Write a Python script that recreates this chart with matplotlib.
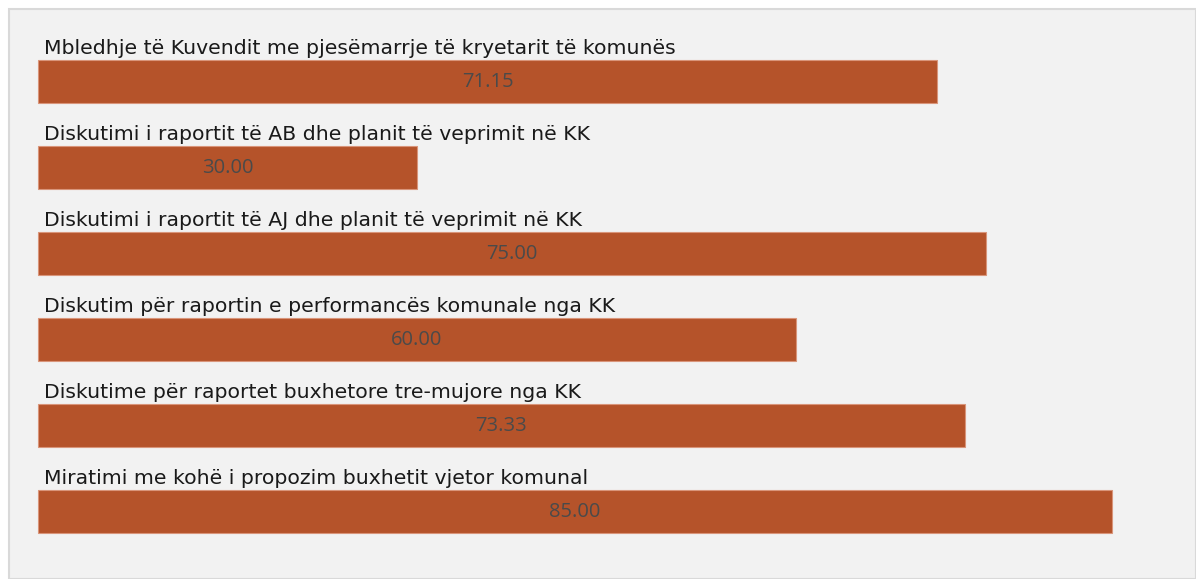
import matplotlib
matplotlib.use("Agg")
import matplotlib.pyplot as plt
from matplotlib.patches import Rectangle

categories = [
    "Mbledhje të Kuvendit me pjesëmarrje të kryetarit të komunës",
    "Diskutimi i raportit të AB dhe planit të veprimit në KK",
    "Diskutimi i raportit të AJ dhe planit të veprimit në KK",
    "Diskutim për raportin e performancës komunale nga KK",
    "Diskutime për raportet buxhetore tre-mujore nga KK",
    "Miratimi me kohë i propozim buxhetit vjetor komunal",
]
values = [71.15, 30.00, 75.00, 60.00, 73.33, 85.00]

W, H = 1196, 579
fig = plt.figure(figsize=(W / 100, H / 100), dpi=100, facecolor="white")

ax = fig.add_axes([0, 0, 1, 1])
ax.set_facecolor("none")
px_per_unit = (1112 - 38) / 85.0
ax.set_xlim(-38 / px_per_unit, (W - 38) / px_per_unit)
pitch = 86.0
top_center = 81.5
ax.set_ylim((H - top_center) / pitch, -top_center / pitch)
ax.axis("off")

# panel background
ax.add_patch(Rectangle((9 / W, 0), (W - 9) / W, (H - 9) / H,
                       transform=fig.transFigure, facecolor="#f2f2f2",
                       edgecolor="#d9d9d9", linewidth=1.5, zorder=-10,
                       clip_on=False))

ys = list(range(len(categories)))
ax.barh(ys, values, height=0.5, color="#b5532a", edgecolor="#d9957a",
        linewidth=0.8, zorder=2)

for y, cat, v in zip(ys, categories, values):
    ax.text(0.45, y - 0.325, cat, ha="left", va="baseline", fontsize=14.7,
            family="DejaVu Sans", color="#1a1a1a", zorder=3)
    ax.text(v / 2, y + 0.01, f"{v:.2f}", ha="center", va="center",
            fontsize=14.5, family="Open Sans", color="#4a4a4a", zorder=3)

fig.savefig("out.png", dpi=100, facecolor="white")
